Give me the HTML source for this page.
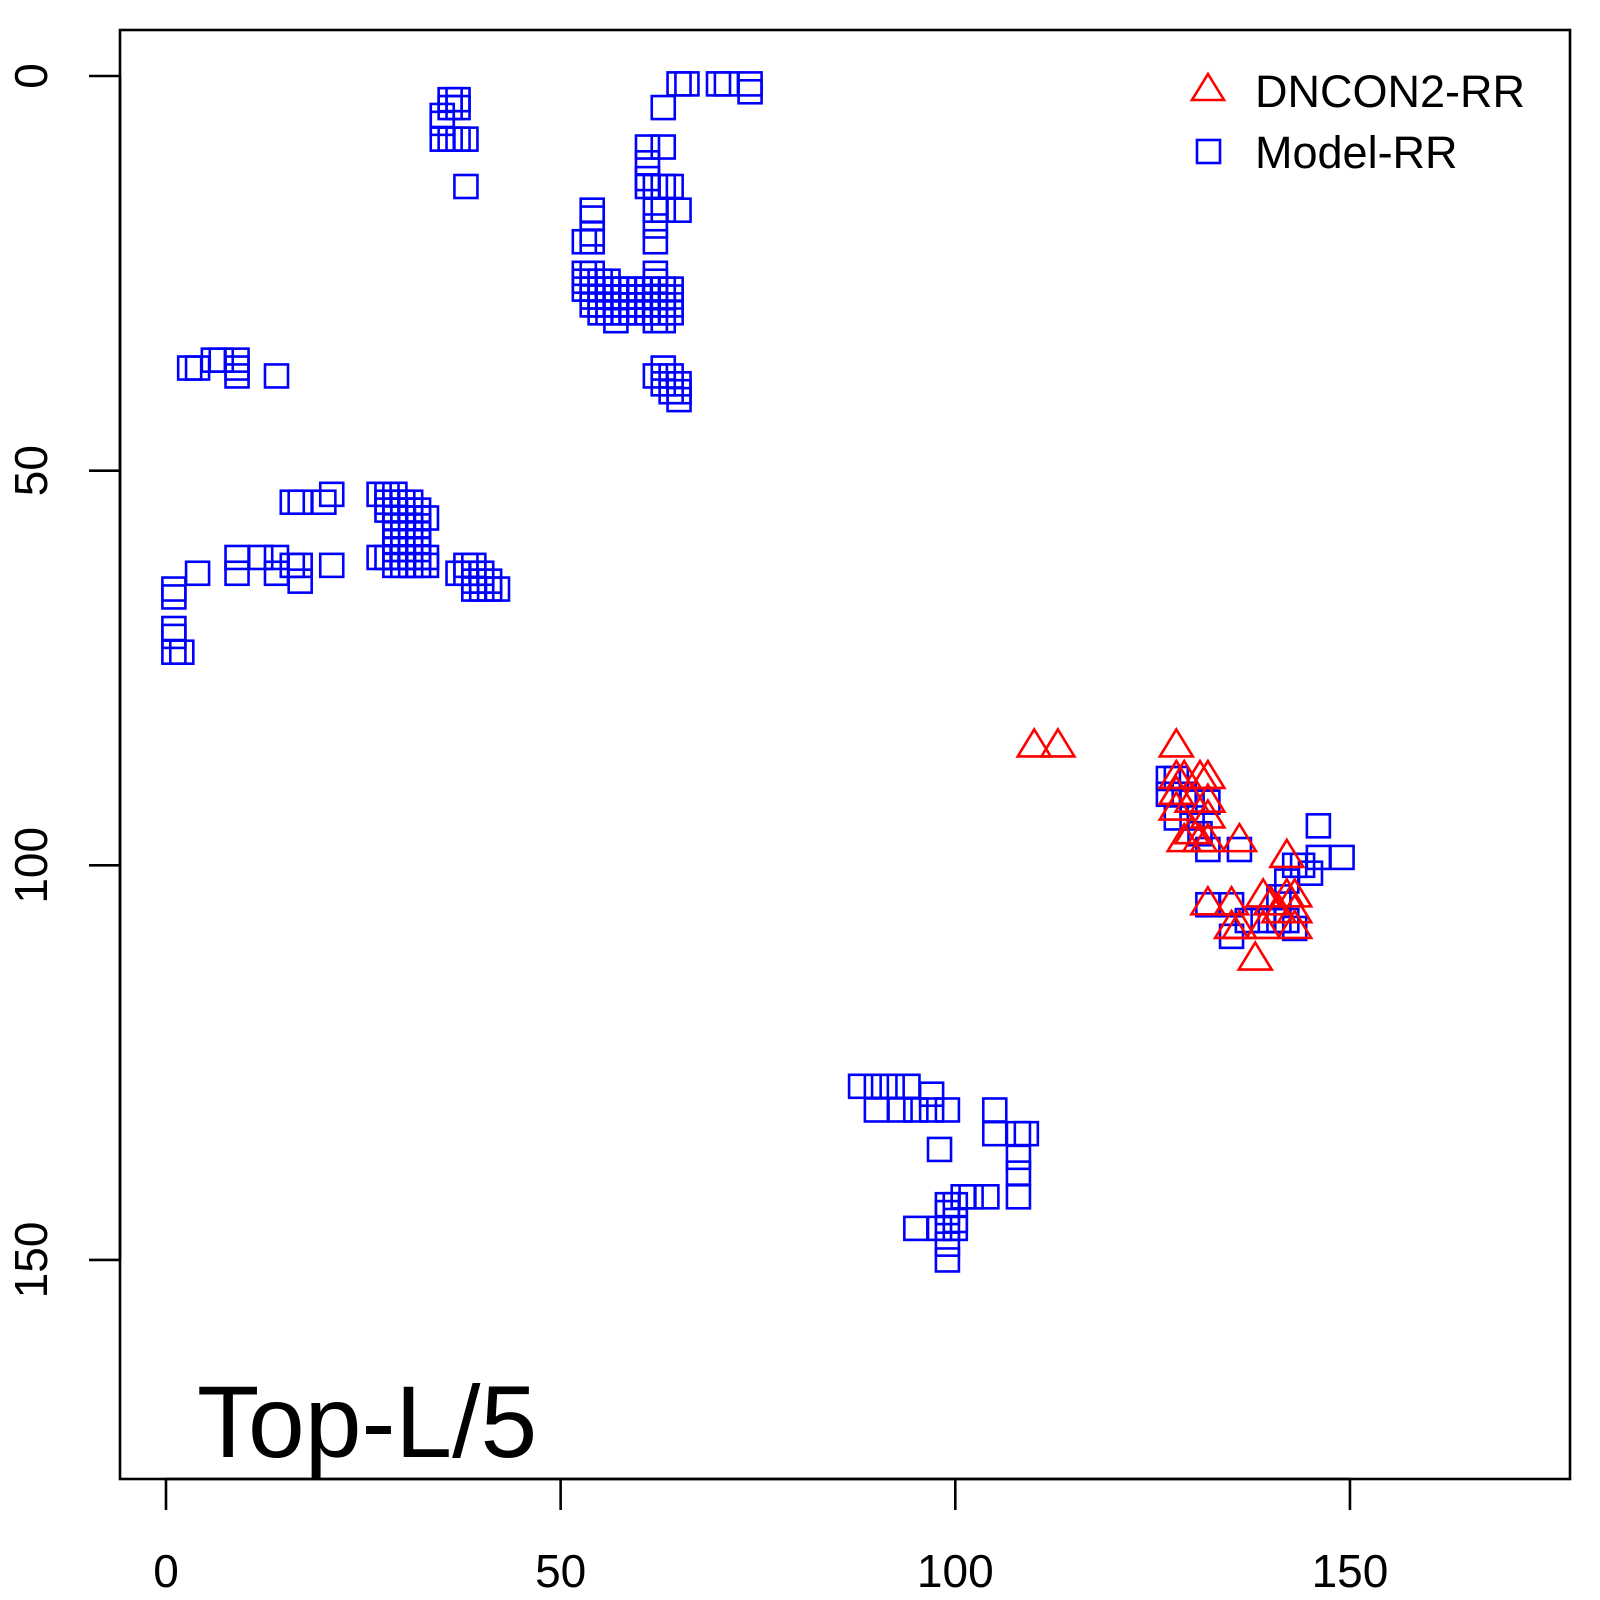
<!DOCTYPE html>
<html><head><meta charset="utf-8"><style>
html,body{margin:0;padding:0;background:#fff}
svg{display:block}
text{font-family:"Liberation Sans",sans-serif}
</style></head><body>
<svg id="chart" width="1600" height="1600" viewBox="0 0 1600 1600">
<rect x="120" y="30" width="1450" height="1449" fill="none" stroke="#000" stroke-width="2.6"/>
<g id="axes"></g>
<g id="marks"></g>
<text x="197" y="1457" font-size="102" fill="#000">Top-L/5</text>
<g>
<g>
<polygon points="1208,74 1224,100 1192,100" fill="none" stroke="#f00" stroke-width="2.6"/>
<text x="1255" y="107" font-size="45" fill="#000">DNCON2-RR</text></g>
<g>
<rect x="1197" y="140" width="23" height="23" fill="none" stroke="#00f" stroke-width="2.6"/>
<text x="1255" y="168" font-size="45" fill="#000">Model-RR</text></g>
</g>
</svg>
<script>
const xTicks=[0,50,100,150];
const yTicks=[0,50,100,150];
const modelPoints=[
[35,5],[35,6],[35,8],[36,3],[36,4],[36,8],[37,3],[37,4],[37,8],[38,8],[38,14],
[65,1],[66,1],[70,1],[71,1],[74,1],[74,2],[63,4],
[61,9],[63,9],[61,11],[61,13],[61,14],[62,14],[63,14],[64,14],[62,17],[63,17],[65,17],[62,19],[62,21],
[54,17],[54,18],[54,20],[53,21],[54,21],
[53,25],[54,25],[62,25],
[53,26],[54,26],[55,26],[56,26],[62,26],
[53,27],[54,27],[55,27],[56,27],[57,27],[58,27],[59,27],[60,27],[61,27],[62,27],[63,27],[64,27],
[54,28],[55,28],[56,28],[57,28],[58,28],[59,28],[60,28],[61,28],[62,28],[63,28],[64,28],
[54,29],[55,29],[56,29],[57,29],[58,29],[59,29],[60,29],[61,29],[62,29],[63,29],[64,29],
[55,30],[56,30],[57,30],[58,30],[59,30],[60,30],[61,30],[62,30],[63,30],[64,30],
[57,31],[62,31],[63,31],
[63,37],[62,38],[64,38],[63,39],[65,39],[64,40],[65,40],[65,41],
[3,37],[4,37],[6,36],[7,36],[9,36],[9,37],[9,38],[14,38],
[16,54],[17,54],[20,54],[21,53],
[27,53],[28,53],[29,53],
[28,54],[29,54],[30,54],[31,54],
[28,55],[29,55],[30,55],[31,55],[32,55],
[29,56],[30,56],[31,56],[32,56],[33,56],
[29,57],[30,57],[31,57],[32,57],
[29,58],[30,58],[31,58],[32,58],
[29,59],[30,59],[31,59],[32,59],
[29,60],[30,60],[31,60],[32,60],
[27,61],[28,61],[29,61],[30,61],[31,61],[32,61],[33,61],
[29,62],[30,62],[31,62],[32,62],[33,62],
[38,62],[39,62],[37,63],[38,63],[39,63],[40,63],[39,64],[40,64],[41,64],[39,65],[40,65],[41,65],[42,65],
[9,61],[9,63],[12,61],[14,61],[14,63],[16,62],[17,62],[17,64],[21,62],[4,63],
[1,65],[1,66],[1,70],[1,71],[1,73],[2,73],
[88,128],[90,128],[92,128],[94,128],[90,131],[93,131],[95,131],[97,131],[97,129],[99,131],[98,136],
[105,131],[105,134],[108,134],[109,134],[108,137],[108,139],[108,142],[104,142],[102,142],[101,142],
[100,143],[99,143],[99,144],[100,145],[99,146],[100,146],[98,146],[95,146],[99,148],[99,150],
[127,89],[128,89],[127,91],[129,91],[130,92],[132,92],[128,94],[130,94],[131,96],[132,98],[136,98],
[142,102],[143,100],[144,100],[146,99],[146,95],[149,99],[145,101],[141,104],
[132,105],[135,105],[137,107],[139,107],[141,107],[142,107],[135,109],[143,108]
];
const dnconPoints=[
[110,85],[113,85],[128,85],[128,89],[128,91],[128,93],[129,89],[130,92],[131,89],[132,89],[132,92],[132,94],
[129,97],[130,96],[131,97],[132,97],[136,97],[142,99],[132,105],[135,105],[139,104],[140,105],[142,104],
[143,104],[135,108],[136,108],[139,108],[143,108],[138,112],[141,106],[143,106]
];
const NS="http://www.w3.org/2000/svg";
function sx(v){return 166+v*7.893;}
function sy(v){return 76+v*7.893;}
const axes=document.getElementById('axes');
const marks=document.getElementById('marks');
function mk(tag,attrs,parent){const e=document.createElementNS(NS,tag);for(const k in attrs)e.setAttribute(k,attrs[k]);parent.appendChild(e);return e;}
mk('line',{x1:sx(0),x2:sx(150),y1:1479,y2:1479,stroke:'#000','stroke-width':2.6},axes);
mk('line',{x1:120,x2:120,y1:sy(0),y2:sy(150),stroke:'#000','stroke-width':2.6},axes);
xTicks.forEach(t=>{
  const l=mk('line',{x1:sx(t),x2:sx(t),y1:1479,y2:1510,stroke:'#000','stroke-width':2.6},axes);
  
  
  const tx=mk('text',{x:sx(t),y:1587,'font-size':46,'text-anchor':'middle'},axes);
  tx.textContent=t;
  
  
});
yTicks.forEach(t=>{
  const l=mk('line',{x1:89,x2:120,y1:sy(t),y2:sy(t),stroke:'#000','stroke-width':2.6},axes);
  
  
  const tx=mk('text',{x:0,y:0,'font-size':46,'text-anchor':'middle',transform:`translate(47,${sy(t)}) rotate(-90)`},axes);
  tx.textContent=t;
  
  
});
modelPoints.forEach(p=>{
  const r=mk('rect',{x:sx(p[0])-11.5,y:sy(p[1])-11.5,width:23,height:23,fill:'none',stroke:'#00f','stroke-width':2.6},marks);
  
  
});
dnconPoints.forEach(p=>{
  const cx=sx(p[0]),cy=sy(p[1]);
  const t=mk('polygon',{points:`${cx},${cy-17.5} ${cx+16.5},${cy+9.5} ${cx-16.5},${cy+9.5}`,fill:'none',stroke:'#f00','stroke-width':2.6},marks);
  
  
});
</script>
</body></html>
